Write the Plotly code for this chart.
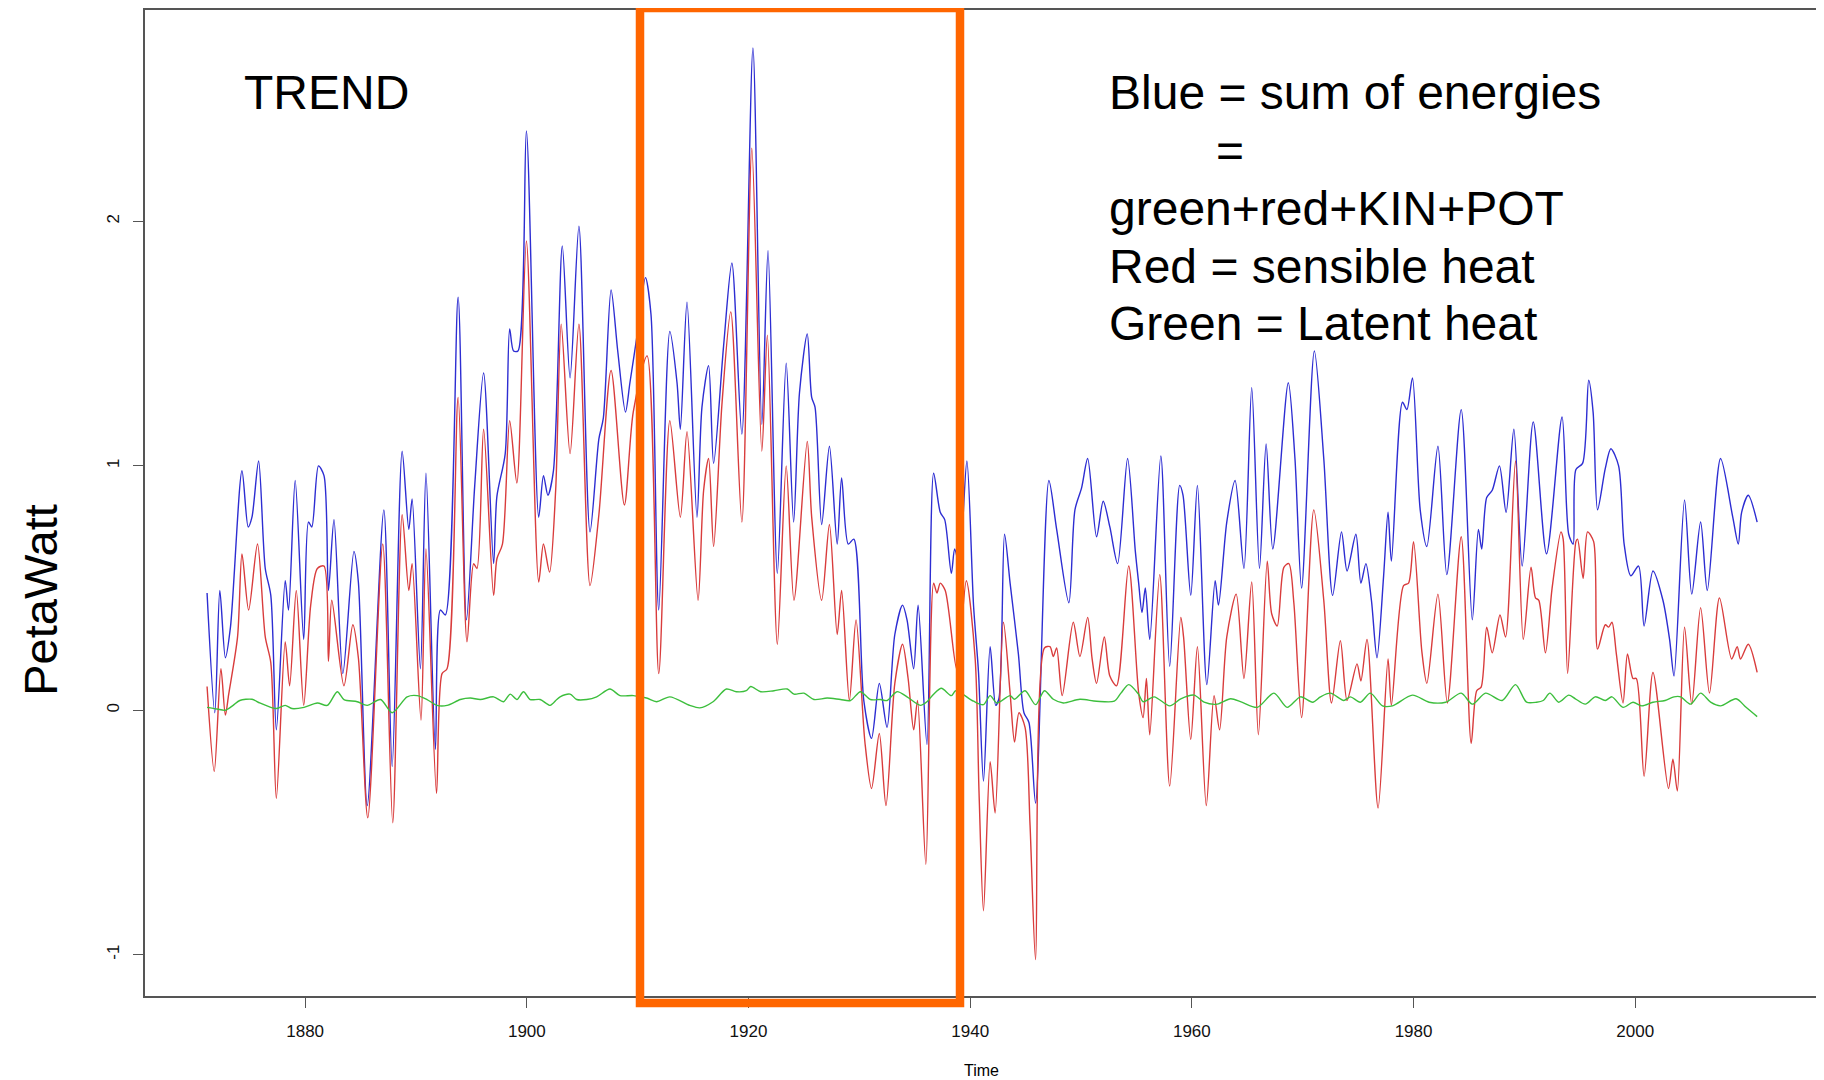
import plotly.graph_objects as go

# ---------------- data ----------------
blue_years = [1871.15, 1871.85, 1872.3, 1872.8, 1873.26, 1874.3, 1874.86, 1875.2, 1875.8, 1876.4, 1876.9, 1877.4,
              1878.2, 1878.5, 1879.1, 1879.87, 1880.3, 1880.6, 1881.2, 1881.7, 1882.1, 1882.6, 1883.4, 1884.4,
              1884.8, 1885.6, 1887.1, 1887.85, 1888.75, 1889.35, 1889.65, 1890.4, 1890.9, 1891.75, 1892.2,
              1892.65, 1893.8, 1894.55, 1895.3, 1896.1, 1897.0, 1897.3, 1898.05, 1898.45, 1898.8, 1899.2,
              1899.96, 1901.07, 1901.5, 1901.9, 1902.4, 1903.2, 1903.9, 1904.7, 1905.7, 1906.5, 1906.9, 1907.6,
              1908.2, 1908.9, 1909.3, 1910.0, 1910.7, 1911.2, 1911.9, 1912.9, 1913.55, 1913.85, 1914.45,
              1915.35, 1915.8, 1916.4, 1916.85, 1917.75, 1918.5, 1919.4, 1920.4, 1921.2, 1921.76, 1922.6,
              1923.4, 1924.07, 1924.6, 1925.3, 1925.7, 1926.0, 1926.6, 1927.3, 1928.0, 1928.4, 1929.0, 1929.5,
              1930.4, 1931.1, 1931.8, 1932.5, 1933.2, 1933.9, 1934.3, 1934.9, 1935.3, 1936.1, 1936.7, 1937.3,
              1937.7, 1938.3, 1938.6, 1939.0, 1939.7, 1940.3, 1940.75, 1941.2, 1941.8, 1942.3, 1942.6, 1943.1,
              1943.6, 1944.35, 1944.85, 1945.3, 1945.9, 1947.1, 1947.8, 1948.9, 1949.45, 1950.05, 1950.6,
              1951.4, 1952.0, 1952.6, 1953.3, 1954.2, 1954.9, 1955.2, 1955.5, 1955.8, 1956.2, 1957.2, 1958.0,
              1958.9, 1959.2, 1959.9, 1960.5, 1961.35, 1962.1, 1962.4, 1963.15, 1963.9, 1964.7, 1965.4, 1966.1,
              1966.7, 1967.3, 1968.7, 1969.3, 1969.9, 1971.05, 1971.9, 1972.7, 1973.5, 1974.0, 1974.8, 1975.25,
              1975.7, 1976.2, 1976.7, 1977.3, 1977.7, 1978.0, 1979.0, 1979.4, 1979.9, 1980.6, 1981.2, 1982.2,
              1983.0, 1984.3, 1985.3, 1985.85, 1986.15, 1986.6, 1987.1, 1987.75, 1988.35, 1989.05, 1989.8,
              1990.8, 1992.0, 1993.4, 1994.0, 1994.4, 1994.65, 1995.25, 1995.8, 1996.2, 1996.6, 1997.3, 1997.8,
              1998.5, 1999.0, 1999.6, 2000.3, 2000.8, 2001.6, 2002.5, 2003.1, 2003.5, 2004.45, 2005.1, 2005.9,
              2006.5, 2007.7, 2008.8, 2009.3, 2009.6, 2010.2, 2011.0]
blue_values = [0.48, -0.01, 0.49, 0.215, 0.34, 0.98, 0.75, 0.79, 1.02, 0.58, 0.47, -0.08,
               0.53, 0.41, 0.94, 0.29, 0.77, 0.75, 1.00, 0.96, 0.49, 0.78, 0.15, 0.65,
               0.525, -0.39, 0.82, -0.23, 1.06, 0.74, 0.865, 0.17, 0.97, -0.16, 0.41,
               0.39, 1.69, 0.37, 0.92, 1.38, 0.60, 0.875, 1.05, 1.56, 1.47, 1.47,
               2.37, 0.79, 0.96, 0.88, 0.98, 1.90, 1.36, 1.98, 0.73, 1.11, 1.195, 1.72,
               1.47, 1.22, 1.34, 1.55, 1.77, 1.62, 0.41, 1.55, 1.34, 1.15, 1.67,
               0.79, 1.24, 1.41, 1.01, 1.49, 1.83, 1.13, 2.71, 1.17, 1.88, 0.56,
               1.42, 0.77, 1.30, 1.54, 1.28, 1.24, 0.76, 1.08, 0.68, 0.95, 0.68, 0.70,
               0.04, -0.115, 0.11, -0.07, 0.31, 0.43, 0.37, 0.17, 0.43, -0.14, 0.97, 0.81,
               0.78, 0.56, 0.66, 0.60, 1.02, 0.43, 0.155, -0.29, 0.26, 0.02, 0.05, 0.72,
               0.52, 0.23, -0.01, -0.05, -0.38, 0.94, 0.74, 0.44, 0.82, 0.91, 1.03,
               0.71, 0.855, 0.75, 0.60, 1.03, 0.65, 0.52, 0.40, 0.50, 0.29, 1.04, 0.18,
               0.92, 0.88, 0.47, 0.92, 0.105, 0.53, 0.43, 0.77, 0.94, 0.58, 1.32, 0.58,
               1.09, 0.66, 1.34, 1.03, 0.50, 1.47, 1.03, 0.47, 0.73, 0.57, 0.72, 0.52,
               0.60, 0.45, 0.215, 0.55, 0.81, 0.61, 1.26, 1.23, 1.36, 0.82, 0.67, 1.08,
               0.555, 1.23, 0.37, 0.74, 0.66, 0.87, 0.90, 1.00, 0.81, 1.15, 0.59,
               1.18, 0.64, 1.20, 0.72, 0.68, 0.985, 1.01, 1.35, 1.22, 0.82, 0.99, 1.07,
               1.00, 0.68, 0.55, 0.59, 0.345, 0.57, 0.45, 0.29, 0.14, 0.86, 0.475, 0.77,
               0.49, 1.03, 0.79, 0.68, 0.81, 0.88, 0.77]

red_years = [1871.15, 1871.8, 1872.4, 1872.8, 1873.1, 1873.9, 1874.3, 1874.9, 1875.7, 1876.4, 1876.9, 1877.4,
             1878.2, 1878.6, 1879.2, 1879.87, 1880.5, 1881.1, 1881.7, 1882.1, 1882.4, 1883.5, 1884.3, 1884.8,
             1885.65, 1887.0, 1887.9, 1888.75, 1889.35, 1889.65, 1890.45, 1890.9, 1891.85, 1892.35, 1892.8,
             1893.8, 1894.6, 1895.2, 1895.5, 1896.1, 1897.0, 1897.3, 1897.8, 1898.45, 1899.1, 1899.96,
             1901.07, 1901.5, 1902.05, 1902.6, 1903.1, 1903.9, 1904.7, 1905.7, 1906.5, 1907.6, 1908.8, 1909.6,
             1910.85, 1911.9, 1912.9, 1913.85, 1914.45, 1915.45, 1915.95, 1916.4, 1916.85, 1917.6, 1918.4,
             1919.4, 1920.3, 1921.2, 1921.7, 1922.6, 1923.4, 1924.1, 1925.3, 1925.7, 1926.6, 1927.3, 1928.0,
             1928.4, 1929.1, 1929.7, 1930.5, 1931.1, 1931.8, 1932.4, 1933.2, 1933.9, 1934.4, 1934.9, 1935.25,
             1936.0, 1936.7, 1937.0, 1937.3, 1937.75, 1938.8, 1939.65, 1940.45, 1940.8, 1941.2, 1941.8,
             1942.25, 1943.0, 1943.6, 1944.0, 1944.4, 1944.95, 1945.4, 1945.9, 1946.7, 1947.2, 1947.5, 1947.8,
             1948.3, 1949.3, 1949.9, 1950.6, 1951.0, 1951.4, 1952.1, 1952.6, 1953.2, 1954.3, 1955.2, 1955.6,
             1955.9, 1956.2, 1957.1, 1958.0, 1959.0, 1959.25, 1959.9, 1960.5, 1961.3, 1962.0, 1962.5, 1963.15,
             1964.0, 1964.7, 1965.4, 1966.0, 1966.8, 1967.2, 1967.7, 1968.3, 1968.75, 1969.2, 1969.9, 1971.0,
             1971.9, 1972.6, 1973.4, 1974.0, 1974.9, 1975.25, 1975.8, 1976.8, 1977.7, 1978.0, 1979.1, 1979.55,
             1980.0, 1980.75, 1981.2, 1982.2, 1983.05, 1984.3, 1985.2, 1985.7, 1986.1, 1986.6, 1987.1, 1987.8,
             1988.3, 1989.2, 1989.9, 1990.6, 1991.0, 1991.3, 1991.9, 1992.5, 1993.3, 1993.5, 1993.9, 1994.65,
             1994.8, 1995.3, 1995.7, 1996.25, 1996.6, 1997.3, 1997.6, 1997.9, 1998.3, 1998.9, 1999.3, 1999.8,
             2000.1, 2000.8, 2001.6, 2003.0, 2003.4, 2003.8, 2004.45, 2005.1, 2005.9, 2006.7, 2007.6, 2008.7,
             2009.2, 2009.5, 2010.2, 2011.0]
red_values = [0.097, -0.25, 0.17, -0.02, 0.065, 0.30, 0.64, 0.41, 0.68, 0.30, 0.195, -0.36,
              0.28, 0.10, 0.49, 0.02, 0.43, 0.58, 0.59, 0.20, 0.45, 0.10, 0.35, 0.215,
              -0.44, 0.68, -0.46, 0.80, 0.49, 0.60, -0.04, 0.66, -0.34, 0.15, 0.17,
              1.28, 0.28, 0.60, 0.58, 1.15, 0.47, 0.62, 0.68, 1.185, 0.93, 1.92,
              0.525, 0.68, 0.565, 0.90, 1.58, 1.05, 1.58, 0.51, 0.80, 1.39, 0.84, 1.22,
              1.45, 0.15, 1.185, 0.79, 1.14, 0.45, 0.90, 1.03, 0.67, 1.25, 1.63,
              0.77, 2.30, 1.06, 1.535, 0.27, 1.00, 0.45, 1.10, 0.79, 0.45, 0.76, 0.31,
              0.49, 0.04, 0.37, -0.13, -0.32, -0.095, -0.39, 0.11, 0.27, 0.13, -0.08, 0.04,
              -0.63, 0.52, 0.48, 0.52, 0.49, 0.166, 0.53, 0.21, -0.34, -0.82, -0.21,
              -0.42, 0.36, 0.07, -0.13, -0.01, -0.07, -0.47, -1.02, 0.255, 0.26, 0.22, 0.255,
              0.06, 0.36, 0.22, 0.38, 0.21, 0.11, 0.30, 0.14, 0.10, 0.59, 0.07, -0.03,
              0.13, -0.10, 0.555, -0.31, 0.38, 0.30, -0.12, 0.26, -0.39, 0.06, -0.08, 0.30,
              0.475, 0.13, 0.525, -0.10, 0.61, 0.395, 0.345, 0.585, 0.60, 0.44, -0.03, 0.82,
              0.45, 0.03, 0.285, 0.04, 0.19, 0.12, 0.29, -0.40, 0.21, 0.02, 0.51, 0.52,
              0.69, 0.24, 0.11, 0.475, 0.03, 0.71, -0.135, 0.08, 0.095, 0.34, 0.235, 0.39,
              0.30, 1.02, 0.29, 0.585, 0.46, 0.45, 0.235, 0.50, 0.73, 0.70, 0.15, 0.69,
              0.70, 0.54, 0.73, 0.69, 0.25, 0.35, 0.34, 0.36, 0.23, 0.03, 0.23, 0.13,
              0.13, -0.27, 0.155, -0.32, -0.20, -0.33, 0.34, 0.025, 0.42, 0.07, 0.46, 0.21,
              0.26, 0.21, 0.27, 0.155]

green_years = [1871.15, 1872.05, 1872.8, 1873.5, 1874.1, 1875.2, 1875.9, 1876.9, 1877.4, 1878.2, 1878.8,
               1879.9, 1881.1, 1882.0, 1882.9, 1883.5, 1884.7, 1885.6, 1886.8, 1887.85, 1889.2, 1890.1,
               1891.0, 1891.9, 1892.8, 1894.0, 1894.9, 1895.8, 1897.0, 1897.9, 1898.5, 1899.1, 1899.7,
               1900.3, 1901.2, 1902.1, 1902.7, 1903.0, 1903.9, 1904.5, 1905.4, 1906.3, 1907.5, 1908.4,
               1909.6, 1910.8, 1911.7, 1912.9, 1914.7, 1915.6, 1916.8, 1918.0, 1918.9, 1919.8, 1920.2,
               1921.1, 1922.3, 1923.5, 1924.1, 1925.0, 1925.9, 1927.1, 1928.3, 1929.2, 1930.1, 1931.0,
               1931.9, 1932.5, 1933.4, 1934.3, 1935.5, 1936.1, 1936.7, 1937.4, 1938.3, 1938.7, 1940.3,
               1941.2, 1941.8, 1942.4, 1943.6, 1944.0, 1944.95, 1945.9, 1946.7, 1947.5, 1948.4, 1949.9,
               1951.4, 1953.0, 1953.6, 1954.3, 1955.2, 1955.6, 1956.6, 1958.0, 1959.0, 1960.2, 1961.1,
               1962.3, 1963.5, 1964.5, 1965.9, 1967.4, 1968.6, 1969.8, 1970.9, 1971.6, 1972.5, 1973.7,
               1974.3, 1975.2, 1976.1, 1977.2, 1978.1, 1979.9, 1981.4, 1982.9, 1984.3, 1985.3, 1986.5,
               1988.0, 1989.2, 1990.2, 1991.1, 1991.7, 1992.3, 1993.1, 1994.0, 1994.6, 1995.5, 1996.4,
               1997.3, 1997.9, 1998.9, 1999.8, 2000.6, 2001.6, 2002.7, 2003.5, 2004.1, 2005.0, 2005.9,
               2006.8, 2007.7, 2009.1, 2010.0, 2011.0]
green_values = [0.012, 0.005, 0.0, 0.02, 0.04, 0.045, 0.03, 0.012, 0.007, 0.02, 0.007,
                0.012, 0.03, 0.02, 0.076, 0.044, 0.035, 0.02, 0.044, -0.01, 0.055, 0.06,
                0.044, 0.02, 0.02, 0.044, 0.05, 0.044, 0.055, 0.035, 0.066, 0.044, 0.076,
                0.044, 0.044, 0.02, 0.044, 0.055, 0.066, 0.044, 0.044, 0.055, 0.087, 0.06,
                0.06, 0.05, 0.035, 0.055, 0.02, 0.01, 0.035, 0.087, 0.076, 0.08, 0.097,
                0.076, 0.08, 0.087, 0.066, 0.07, 0.044, 0.05, 0.044, 0.04, 0.076, 0.044,
                0.044, 0.04, 0.076, 0.055, 0.02, 0.035, 0.066, 0.09, 0.06, 0.08, 0.037,
                0.023, 0.06, 0.03, 0.06, 0.045, 0.08, 0.023, 0.08, 0.045, 0.03, 0.045,
                0.037, 0.037, 0.07, 0.105, 0.065, 0.035, 0.055, 0.018, 0.047, 0.062, 0.033,
                0.025, 0.047, 0.033, 0.012, 0.07, 0.012, 0.055, 0.033, 0.055, 0.07, 0.04,
                0.055, 0.033, 0.07, 0.018, 0.018, 0.062, 0.033, 0.033, 0.07, 0.025, 0.07,
                0.04, 0.105, 0.033, 0.033, 0.04, 0.07, 0.033, 0.062, 0.047, 0.025, 0.055,
                0.04, 0.055, 0.012, 0.033, 0.018, 0.033, 0.04, 0.055, 0.055, 0.025, 0.07,
                0.033, 0.018, 0.047, 0.012, -0.026]

x_tick_values = [1880, 1900, 1920, 1940, 1960, 1980, 2000]
x_tick_labels = ["1880", "1900", "1920", "1940", "1960", "1980", "2000"]
y_tick_values = [-1, 0, 1, 2]
y_tick_labels = ["-1", "0", "1", "2"]

legend_lines = ["Blue = sum of energies", "=", "green+red+KIN+POT",
                "Red = sensible heat", "Green = Latent heat"]

# ---------------- figure ----------------
# The page body has an 8px margin, so the figure is drawn 8px smaller and
# every layout position below is given in window pixels minus that offset.
OFF = 8
W, H = 1824 - OFF, 1080 - OFF
ML, MR, MT, MB = 145 - OFF, 7, 8 - OFF, 84
PW, PH = W - ML - MR, H - MT - MB


def px_x(px):
    # px: window pixel -> paper fraction
    return (px - OFF - ML) / PW


def px_y(py):
    return (H - MB - (py - OFF)) / PH


FONT = "Liberation Sans, Arial, Helvetica, sans-serif"

fig = go.Figure()
fig.add_trace(go.Scatter(x=blue_years, y=blue_values, mode="lines",
                         line=dict(color="#2d2dd2", width=1.4, shape="spline", smoothing=0.8),
                         hoverinfo="x+y", name="Blue"))
fig.add_trace(go.Scatter(x=red_years, y=red_values, mode="lines",
                         line=dict(color="#d93c3c", width=1.4, shape="spline", smoothing=0.8),
                         hoverinfo="x+y", name="Red"))
fig.add_trace(go.Scatter(x=green_years, y=green_values, mode="lines",
                         line=dict(color="#3cbe3c", width=1.4, shape="spline", smoothing=0.8),
                         hoverinfo="x+y", name="Green"))

annotations = [
    dict(text="TREND", x=px_x(242), y=px_y(91), xanchor="left", yanchor="middle"),
]
line_y = [91, 149, 207, 265, 322]
for i, t in enumerate(legend_lines):
    if t == "=":
        annotations.append(dict(text=t, x=px_x(1230), y=px_y(line_y[i]), xanchor="center", yanchor="middle"))
    else:
        annotations.append(dict(text=t, x=px_x(1107), y=px_y(line_y[i]), xanchor="left", yanchor="middle"))
for a in annotations:
    a.update(xref="paper", yref="paper", showarrow=False, font=dict(family=FONT, size=48, color="#000000"))

annotations.append(dict(text="PetaWatt", xref="paper", yref="paper", x=px_x(41), y=px_y(599),
                        xanchor="center", yanchor="middle", textangle=-90, showarrow=False,
                        font=dict(family=FONT, size=47, color="#000000")))
annotations.append(dict(text="Time", xref="paper", yref="paper", x=px_x(981), y=px_y(1071),
                        xanchor="center", yanchor="middle", showarrow=False,
                        font=dict(family=FONT, size=16, color="#000000")))

fig.update_layout(
    width=W, height=H,
    margin=dict(l=ML, r=MR, t=MT, b=MB, pad=0),
    paper_bgcolor="white", plot_bgcolor="white",
    showlegend=False,
    annotations=annotations,
    shapes=[dict(type="rect", xref="paper", yref="paper",
                 x0=px_x(640), x1=px_x(960), y0=px_y(1003), y1=px_y(6),
                 line=dict(color="#FF6600", width=8.5), fillcolor="rgba(0,0,0,0)", layer="above")],
    font=dict(family=FONT, size=16, color="#000000"),
)
fig.update_xaxes(range=[1865.55, 2016.4], tickvals=x_tick_values, ticktext=x_tick_labels,
                 showgrid=False, zeroline=False, showline=True, mirror=True,
                 linecolor="#555555", linewidth=1.6, ticks="outside", ticklen=10,
                 tickwidth=1.4, tickcolor="#555555", ticklabelstandoff=9,
                 tickfont=dict(family=FONT, size=17, color="#111111"))
fig.update_yaxes(range=[-1.169, 2.865], tickvals=y_tick_values, ticktext=y_tick_labels,
                 tickangle=-90, showgrid=False, zeroline=False, showline=True, mirror=True,
                 linecolor="#555555", linewidth=1.6, ticks="outside", ticklen=10,
                 tickwidth=1.4, tickcolor="#555555", ticklabelstandoff=7,
                 tickfont=dict(family=FONT, size=17, color="#111111"))

fig.write_html("out.html")
